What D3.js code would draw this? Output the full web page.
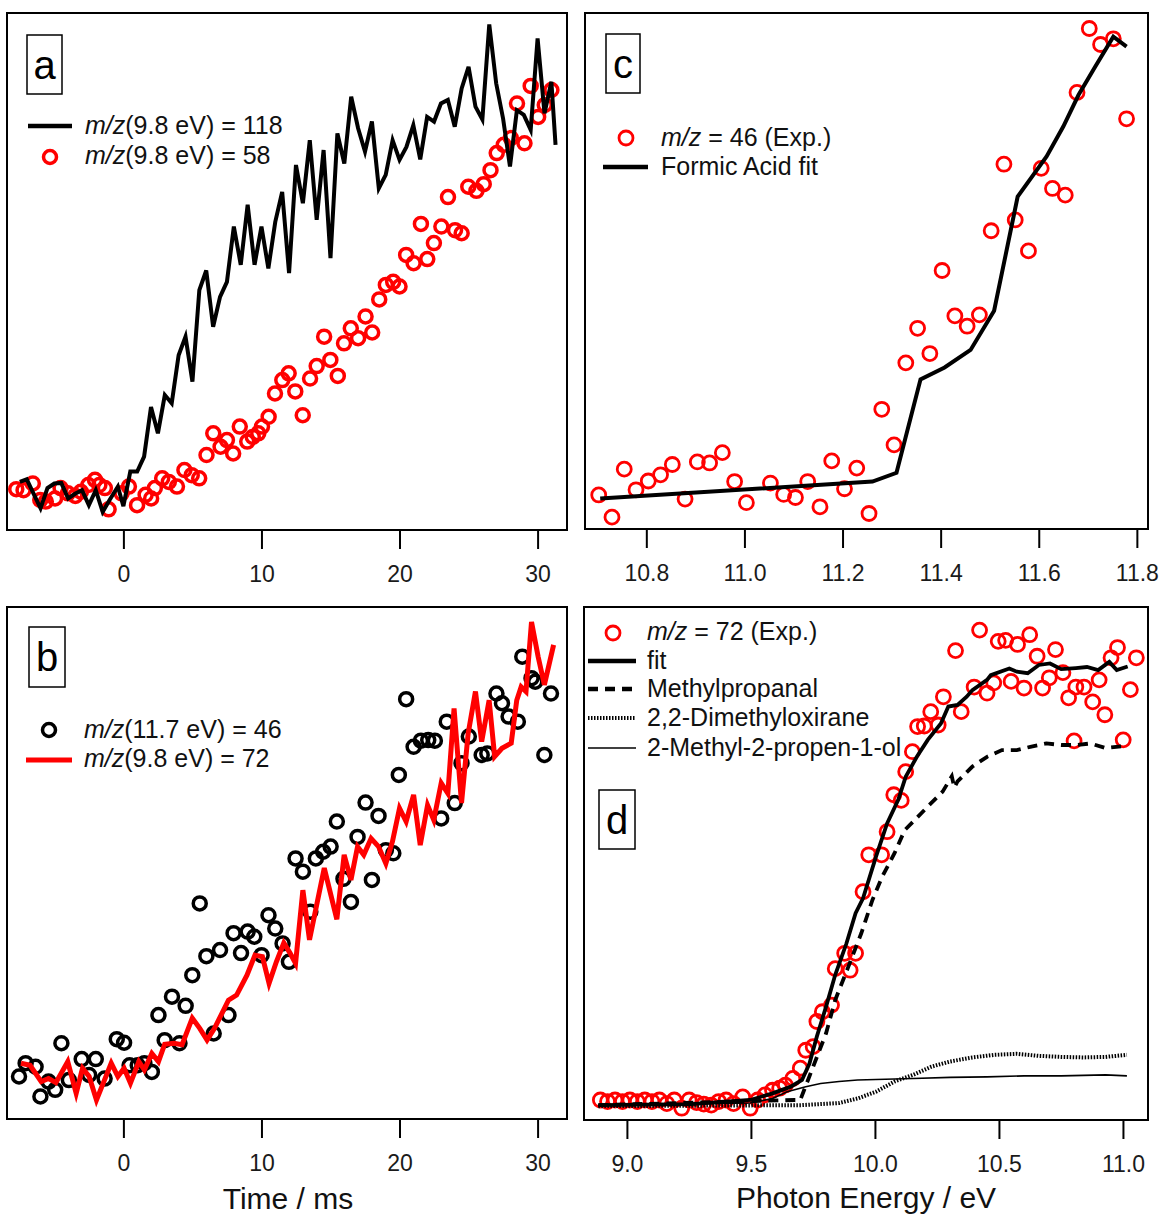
<!DOCTYPE html>
<html>
<head>
<meta charset="utf-8">
<script src="https://cdn.jsdelivr.net/npm/d3@7"></script>
<style>
  body { margin: 0; background: #fff; }
  svg { display: block; font-family: "Liberation Sans", Arial, sans-serif; }
</style>
</head>
<body>
<svg id="main-svg"></svg>
<script>
// ---- data (values in arbitrary, normalised signal units 0..100) ----
// panel a : time traces at 9.8 eV
var aLine118 = [[-7.5,9.3],[-7,9.8],[-6,4.2],[-5.5,8.1],[-5,9.0],[-4.5,9.1],[-4,6.1],[-3.5,7.0],[-3,7.7],[-2.5,4.8],
  [-2,7.7],[-1.5,3.5],[-1,5.8],[-0.4,8.4],[0,4.6],[0.5,11.3],[1,11.3],[1.5,14.2],[2,23.8],[2.5,18.7],
  [3,26.1],[3.5,24.5],[4,33.8],[4.5,37.4],[5,28.7],[5.5,46.4],[6,50.2],[6.5,39.3],[7,45.1],[7.5,48.0],
  [8,58.7],[8.5,51.3],[9,62.9],[9.5,51.3],[10,58.7],[10.5,50.6],[11,59.6],[11.5,65.4],[12,49.7],[12.5,70.6],
  [13,63.2],[13.5,75.4],[14,60.0],[14.5,73.5],[15,52.6],[15.5,76.7],[16,70.9],[16.5,83.8],[17,77.7],[17.5,73.2],
  [18,79.0],[18.5,66.1],[19,68.7],[19.5,75.4],[20,71.6],[20.5,74.1],[21,78.3],[21.5,71.7],[22,79.9],[22.5,79.0],
  [23,82.5],[23.5,83.2],[24,78.0],[24.5,85.4],[25,89.6],[25.5,81.9],[26,79.4],[26.5,97.8],[27,86.4],[27.5,79.6],
  [28,70.3],[28.5,81.2],[29,80.3],[29.5,77.4],[30,95.1],[30.5,80.6],[31,86.7],[31.3,74.5]];
var aCirc58 = [[-7.76,7.9],[-7.23,7.7],[-6.56,9.0],[-6.02,5.8],[-5.62,5.5],[-4.95,6.1],[-4.55,8.1],[-4.02,7.1],
  [-3.48,6.6],[-3.08,7.4],[-2.54,8.7],[-2.06,9.7],[-1.74,8.7],[-1.34,8.1],[-1.07,4.0],[-0.13,7.1],[0.40,8.4],
  [0.99,4.8],[1.61,6.8],[2.01,6.1],[2.28,8.1],[2.81,10.0],[3.29,9.3],[3.88,8.4],[4.42,11.6],[4.95,10.6],
  [5.49,10.0],[6.02,14.5],[6.51,18.7],[7.04,16.1],[7.50,17.4],[7.95,14.8],[8.43,20.0],[8.97,17.1],[9.37,18.0],
  [9.77,18.7],[10.04,20.0],[10.52,21.9],[10.98,26.4],[11.51,29.0],[11.97,30.3],[12.45,26.8],[12.99,22.2],
  [13.52,29.3],[14.00,31.7],[14.54,37.4],[14.99,32.9],[15.53,29.8],[15.98,36.1],[16.47,39.0],[17.00,37.1],
  [17.54,41.3],[18.02,38.2],[18.53,44.6],[19.01,47.4],[19.54,48.0],[20.00,47.1],[20.48,53.2],[21.02,51.6],
  [21.55,59.2],[22.01,52.4],[22.49,55.5],[23.03,58.7],[23.51,64.4],[24.02,58.0],[24.50,57.4],[24.98,66.4],
  [25.57,65.6],[26.10,66.9],[26.59,69.6],[27.04,72.9],[27.55,74.5],[28.06,75.8],[28.51,82.5],[29.05,74.8],
  [29.50,85.9],[30.04,79.9],[30.52,82.2],[31.00,85.1]];

// panel b : m/z 46 at 11.7 eV (circles) and m/z 72 at 9.8 eV (line)
var bCirc46 = [[-7.56,8.3],[-7.08,10.9],[-6.36,10.2],[-6.01,4.4],[-5.42,7.3],[-4.94,5.7],[-4.49,14.8],[-3.95,7.6],
  [-3.02,11.7],[-2.48,8.6],[-2.00,11.7],[-1.36,7.9],[-0.48,15.6],[0.05,14.9],[0.45,10.5],[1.04,10.5],[1.52,10.9],
  [2.06,9.2],[2.54,20.3],[2.99,15.4],[3.52,23.9],[4.06,14.8],[4.51,22.1],[4.99,28.1],[5.53,42.1],[6.01,31.8],
  [6.54,16.7],[7.00,33.0],[7.61,20.3],[7.98,36.3],[8.52,32.4],[9.00,36.6],[9.48,35.6],[10.01,32.0],[10.51,39.8],
  [11.0,37.2],[11.53,34.3],[11.99,30.7],[12.47,50.9],[13.0,48.3],[13.54,40.5],[13.94,50.9],[14.47,52.2],
  [15.01,53.2],[15.46,58.1],[15.94,46.9],[16.48,42.4],[16.96,55.1],[17.54,61.8],[18.0,46.7],[18.48,59.2],
  [19.01,52.5],[19.55,51.9],[19.95,67.2],[20.48,82.0],[21.02,72.7],[21.55,73.9],[22.08,74.0],[22.56,73.9],
  [23.02,58.7],[23.42,77.6],[24.0,61.7],[24.49,69.5],[25.02,74.7],[25.95,71.1],[26.36,71.4],[27.02,83.1],
  [27.42,81.2],[27.90,78.6],[28.57,77.6],[28.89,90.3],[29.56,86.1],[29.83,85.4],[30.49,71.1],[30.97,83.1]];
var bLine72 = [[-7.42,10.9],[-6.76,10.5],[-5.95,7.3],[-5.42,7.9],[-4.89,7.1],[-4.03,11.2],[-3.42,5.0],[-2.96,9.9],
  [-2.48,8.3],[-1.95,3.7],[-0.88,10.9],[-0.40,8.3],[0.05,9.9],[0.51,7.0],[1.12,11.2],[1.52,9.6],[2.06,12.8],
  [2.54,11.2],[2.99,14.6],[3.66,14.8],[4.25,14.5],[4.99,19.7],[5.53,17.7],[6.06,15.4],[6.60,17.7],[7.13,20.6],
  [7.61,23.2],[8.2,24.2],[8.95,28.1],[9.53,32.0],[10.07,31.7],[10.55,26.5],[11.08,30.7],[11.62,34.4],[12.07,32.4],
  [12.47,30.4],[13.0,44.7],[13.48,35.0],[14.55,49.0],[15.46,39.0],[15.99,51.6],[16.48,46.7],[16.96,53.2],
  [17.41,51.6],[17.94,54.8],[18.48,53.2],[19.01,49.9],[19.49,54.2],[20.0,60.7],[20.48,58.1],[21.02,63.3],
  [21.50,53.5],[22.03,61.3],[22.48,58.4],[23.02,65.6],[23.50,63.6],[23.95,80.2],[24.49,61.7],[24.97,75.3],
  [25.50,83.5],[25.95,73.7],[26.49,81.8],[26.89,70.8],[27.42,72.4],[28.09,73.4],[28.49,81.8],[28.81,84.4],
  [29.16,83.5],[29.56,97.1],[30.04,90.3],[30.49,84.8],[31.16,92.6]];

// panel c : photoionisation spectrum m/z 46 and formic acid fit
var cCirc46 = [[10.703,6.6],[10.730,2.3],[10.755,11.6],[10.779,7.6],[10.804,9.3],[10.829,10.5],[10.853,12.5],
  [10.879,5.8],[10.904,13.0],[10.929,12.8],[10.955,14.8],[10.980,9.2],[11.004,5.1],[11.053,8.9],[11.080,6.7],
  [11.104,6.1],[11.129,9.2],[11.154,4.3],[11.178,13.2],[11.204,7.8],[11.229,11.8],[11.254,3.0],[11.280,23.2],
  [11.305,16.3],[11.329,32.2],[11.353,38.9],[11.378,34.0],[11.403,50.1],[11.429,41.3],[11.454,39.3],[11.479,41.5],
  [11.503,57.8],[11.529,70.7],[11.552,59.9],[11.579,53.9],[11.605,69.9],[11.628,66.0],[11.654,64.7],[11.678,84.6],
  [11.703,97.0],[11.726,93.9],[11.752,95.0],[11.779,79.5]];
var cFormicFit = [[10.706,5.9],[11.261,9.2],[11.310,10.9],[11.359,29.0],[11.408,31.3],[11.461,34.7],[11.509,42.3],
  [11.557,64.4],[11.616,72.2],[11.650,78.0],[11.681,84.1],[11.715,89.6],[11.752,95.4],[11.779,93.5]];

// panel d : photoionisation spectrum m/z 72 and component fits
var dCirc72 = [[8.893,3.9],[8.922,3.6],[8.952,3.9],[8.982,3.6],[9.012,3.9],[9.042,3.6],[9.072,3.9],[9.101,3.6],
  [9.131,3.9],[9.161,3.2],[9.191,3.9],[9.221,2.3],[9.251,3.9],[9.281,3.4],[9.310,3.1],[9.340,2.9],[9.370,3.6],
  [9.400,3.9],[9.430,3.2],[9.467,4.5],[9.497,2.3],[9.527,3.9],[9.557,4.9],[9.587,5.8],[9.616,6.2],[9.639,6.8],
  [9.669,8.1],[9.699,10.1],[9.721,13.6],[9.751,14.3],[9.766,19.2],[9.788,21.1],[9.825,22.4],[9.840,29.5],
  [9.878,32.5],[9.900,29.2],[9.922,32.5],[9.952,44.5],[9.975,51.7],[10.027,51.7],[10.049,56.2],[10.076,63.4],
  [10.106,62.3],[10.124,67.9],[10.151,71.8],[10.172,76.7],[10.199,76.8],[10.225,79.6],[10.255,77.0],[10.276,82.5],
  [10.325,91.5],[10.348,79.6],[10.400,84.4],[10.422,95.5],[10.452,83.2],[10.479,85.2],[10.497,93.3],[10.527,93.5],
  [10.549,85.5],[10.575,92.7],[10.601,84.2],[10.624,94.6],[10.654,90.4],[10.676,84.2],[10.703,86.2],[10.728,91.7],
  [10.758,87.2],[10.781,82.3],[10.803,73.9],[10.810,84.4],[10.843,84.4],[10.878,81.5],[10.904,85.8],[10.927,79.0],
  [10.952,90.1],[10.978,92.1],[11.001,74.1],[11.030,83.9],[11.054,90.1]];
var dFit = [[8.885,2.9],[9.258,3.1],[9.497,3.9],[9.587,5.2],[9.661,6.5],[9.706,7.8],[9.736,11.0],[9.766,16.3],
  [9.803,22.1],[9.840,28.3],[9.885,34.4],[9.922,40.3],[9.952,43.2],[10.004,51.3],[10.049,57.8],[10.094,62.4],
  [10.124,66.9],[10.169,70.8],[10.213,74.1],[10.266,77.3],[10.296,80.6],[10.333,80.9],[10.370,82.5],[10.393,83.8],
  [10.452,85.8],[10.467,86.7],[10.542,88.0],[10.572,87.4],[10.616,87.1],[10.661,88.7],[10.706,89.0],[10.751,87.9],
  [10.810,88.1],[10.855,88.3],[10.900,87.7],[10.945,89.3],[10.975,87.7],[11.019,88.4]];
var dMethylpropanal = [[8.885,2.9],[9.676,3.9],[9.699,3.9],[9.751,10.4],[9.803,16.9],[9.840,23.4],[9.893,29.9],
  [9.945,36.4],[9.990,42.9],[10.030,47.5],[10.079,52.0],[10.120,56.5],[10.161,58.5],[10.213,61.1],[10.273,64.0],
  [10.310,67.0],[10.320,64.8],[10.333,66.0],[10.393,68.9],[10.452,70.8],[10.512,72.1],[10.572,72.1],[10.631,72.8],
  [10.691,73.4],[10.751,73.1],[10.810,73.1],[10.870,73.4],[10.930,72.5],[11.004,72.9]];
var dDimethyloxirane = [[8.885,2.7],[9.706,2.9],[9.781,3.1],[9.855,3.3],[9.930,4.2],[10.004,5.5],[10.079,7.5],
  [10.154,8.8],[10.228,10.4],[10.303,11.4],[10.393,12.2],[10.482,12.7],[10.572,12.9],[10.661,12.5],[10.751,12.3],
  [10.840,12.2],[10.930,12.3],[11.016,12.7]];
var dPropenol = [[8.885,2.9],[9.497,3.3],[9.587,4.2],[9.646,5.5],[9.721,6.5],[9.781,7.1],[9.855,7.5],[9.930,7.8],
  [10.004,7.9],[10.154,8.1],[10.303,8.3],[10.452,8.4],[10.601,8.6],[10.751,8.6],[10.930,8.8],[11.016,8.6]];

var timeTicks = [0, 10, 20, 30];
var energyTicksC = [10.8, 11.0, 11.2, 11.4, 11.6, 11.8];
var energyTicksD = [9.0, 9.5, 10.0, 10.5, 11.0];

// ---- layout ----
var width = 1160, height = 1216;
var svg = d3.select("#main-svg").attr("width", width).attr("height", height);
var FONT = "'Liberation Sans', Arial, sans-serif";

function makePanel(box, xDomain, ticks, fmt) {
  var x = d3.scaleLinear().domain(xDomain).range([box.x0, box.x1]);
  var y = d3.scaleLinear().domain([0, 100]).range([box.y1, box.y0]);
  var ax = svg.append("g").attr("transform", "translate(0," + box.y1 + ")")
    .call(d3.axisBottom(x).tickValues(ticks).tickFormat(fmt).tickSize(19).tickPadding(17));
  ax.select(".domain").remove();
  ax.selectAll("line").attr("stroke", "#000").attr("stroke-width", 2);
  ax.selectAll("text").attr("font-size", 23).attr("font-family", FONT).attr("fill", "#1a1a1a");
  svg.append("rect").attr("x", box.x0).attr("y", box.y0)
    .attr("width", box.x1 - box.x0).attr("height", box.y1 - box.y0)
    .attr("fill", "none").attr("stroke", "#000").attr("stroke-width", 2);
  return { x: x, y: y };
}

function drawCircles(p, data, color, r, sw) {
  svg.append("g").selectAll("circle").data(data).enter().append("circle")
    .attr("cx", function (d) { return p.x(d[0]); })
    .attr("cy", function (d) { return p.y(d[1]); })
    .attr("r", r).attr("fill", "none").attr("stroke", color).attr("stroke-width", sw);
}

function drawLine(p, data, color, sw, dash) {
  var line = d3.line().x(function (d) { return p.x(d[0]); }).y(function (d) { return p.y(d[1]); });
  svg.append("path").datum(data).attr("d", line)
    .attr("fill", "none").attr("stroke", color).attr("stroke-width", sw)
    .attr("stroke-linejoin", "miter").attr("stroke-dasharray", dash || null);
}

function panelLabel(x0, y0, w, h, letter) {
  svg.append("rect").attr("x", x0).attr("y", y0).attr("width", w).attr("height", h)
    .attr("fill", "#fff").attr("stroke", "#000").attr("stroke-width", 1.5);
  svg.append("text").attr("x", x0 + w / 2).attr("y", y0 + h / 2 + 14)
    .attr("text-anchor", "middle").attr("font-size", 40).attr("font-family", FONT).text(letter);
}

function legendText(x, y, italic, rest) {
  var t = svg.append("text").attr("x", x).attr("y", y).attr("font-size", 25)
    .attr("font-family", FONT).attr("fill", "#111");
  if (italic) t.append("tspan").attr("font-style", "italic").text(italic);
  t.append("tspan").text(rest);
}
function legendLine(x0, x1, y, color, sw, dash) {
  svg.append("line").attr("x1", x0).attr("x2", x1).attr("y1", y).attr("y2", y)
    .attr("stroke", color).attr("stroke-width", sw).attr("stroke-dasharray", dash || null);
}
function legendCircle(cx, cy, color, r, sw) {
  svg.append("circle").attr("cx", cx).attr("cy", cy).attr("r", r)
    .attr("fill", "none").attr("stroke", color).attr("stroke-width", sw);
}

var fmt0 = d3.format("d"), fmt1 = d3.format(".1f");

// panel a
var pa = makePanel({ x0: 7, x1: 567, y0: 13, y1: 530 }, [-8.43, 32.13], timeTicks, fmt0);
drawCircles(pa, aCirc58, "#ff0000", 6.5, 3.5);
drawLine(pa, aLine118, "#000", 4);
panelLabel(27, 35, 35, 59, "a");
legendLine(28, 72, 126, "#000", 4.5);
legendText(85, 134, "m/z", "(9.8 eV) = 118");
legendCircle(50, 157, "#ff0000", 6.5, 3.5);
legendText(85, 164, "m/z", "(9.8 eV) = 58");

// panel b
var pb = makePanel({ x0: 7, x1: 567, y0: 607, y1: 1119 }, [-8.43, 32.13], timeTicks, fmt0);
drawCircles(pb, bCirc46, "#000", 6.5, 3.5);
drawLine(pb, bLine72, "#ff0000", 5);
panelLabel(29, 627, 36, 60, "b");
legendCircle(49, 730, "#000", 6.5, 3.5);
legendText(84, 738, "m/z", "(11.7 eV) = 46");
legendLine(26, 72, 760, "#ff0000", 5);
legendText(84, 767, "m/z", "(9.8 eV) = 72");

// panel c
var pc = makePanel({ x0: 585, x1: 1148, y0: 13, y1: 529 }, [10.675, 11.8227], energyTicksC, fmt1);
drawCircles(pc, cCirc46, "#ff0000", 7, 2.8);
drawLine(pc, cFormicFit, "#000", 4);
panelLabel(606, 34, 34, 59, "c");
legendCircle(626, 138, "#ff0000", 7, 2.8);
legendText(661, 146, "m/z", " = 46 (Exp.)");
legendLine(603, 648, 167, "#000", 4.5);
legendText(661, 175, null, "Formic Acid fit");

// panel d
var pd = makePanel({ x0: 584, x1: 1148, y0: 607, y1: 1120 }, [8.827, 11.101], energyTicksD, fmt1);
drawCircles(pd, dCirc72, "#ff0000", 7, 2.8);
drawLine(pd, dPropenol, "#000", 1.6);
drawLine(pd, dDimethyloxirane, "#000", 4, "1.5 1.5");
drawLine(pd, dMethylpropanal, "#000", 3.8, "10 7");
drawLine(pd, dFit, "#000", 3.8);
panelLabel(599, 790, 36, 59, "d");
legendCircle(613, 633, "#ff0000", 7, 2.8);
legendText(647, 640, "m/z", " = 72 (Exp.)");
legendLine(588, 636, 661, "#000", 4.5);
legendText(647, 669, null, "fit");
legendLine(588, 636, 689, "#000", 4.5, "10 7");
legendText(647, 697, null, "Methylpropanal");
legendLine(588, 636, 718, "#000", 4, "1.5 1.5");
legendText(647, 726, null, "2,2-Dimethyloxirane");
legendLine(588, 636, 748, "#000", 1.6);
legendText(647, 756, null, "2-Methyl-2-propen-1-ol");

// axis titles
svg.append("text").attr("x", 288).attr("y", 1209).attr("text-anchor", "middle")
  .attr("font-size", 30).attr("font-family", FONT).attr("fill", "#111").text("Time / ms");
svg.append("text").attr("x", 866).attr("y", 1208).attr("text-anchor", "middle")
  .attr("font-size", 30).attr("font-family", FONT).attr("fill", "#111").text("Photon Energy / eV");
</script>
</body>
</html>
